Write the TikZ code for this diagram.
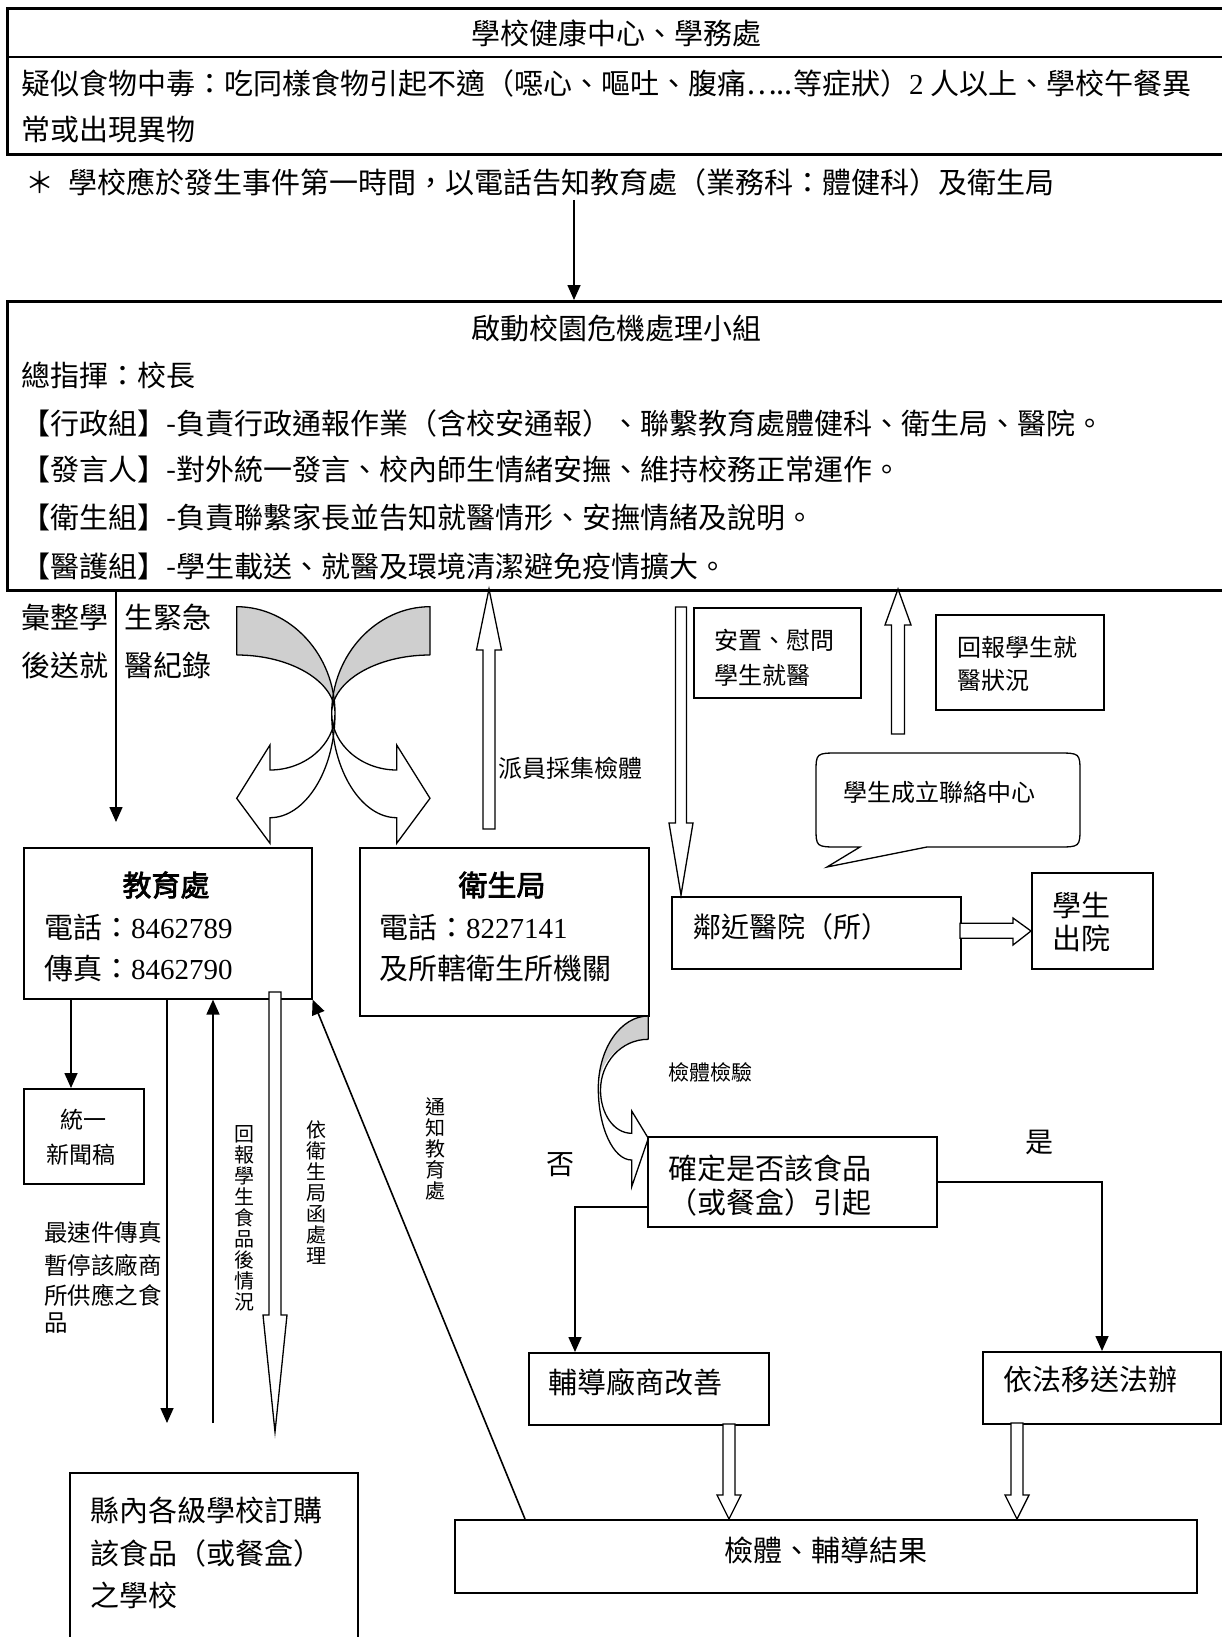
\documentclass[tikz,border=0pt]{standalone}
\usepackage{fontspec}
\setmainfont{Noto Sans CJK TC}
\newfontfamily\lat{Liberation Serif}
\newfontfamily\cjkb{Noto Sans CJK TC}[FakeBold=2.5]
\usetikzlibrary{arrows.meta,calc}
\newcommand\fsz[1]{\fontsize{#1}{#1}\selectfont}
\newcommand\blockarrow[6]{\draw[hollow] (#1-#5,#2) -- (#1+#5,#2) -- (#1+#5,#3) -- (#1+#6,#3) -- (#1,#4) -- (#1-#6,#3) -- (#1-#5,#3) -- cycle;}
\begin{document}
\begin{tikzpicture}[x=1pt,y=-1pt,
  box/.style={draw, line width=1.6pt, inner sep=0pt, anchor=north west},
  bigbox/.style={box, line width=2.6pt},
  t/.style={inner sep=0pt, anchor=west, font=\fsz{29}},
  ts/.style={inner sep=0pt, anchor=west, font=\fsz{24}},
  tc/.style={inner sep=0pt, anchor=center, font=\fsz{29}},
  conn/.style={line width=1.6pt, -{Triangle[length=15pt,width=13pt]}},
  hollow/.style={draw, fill=white, line width=1.3pt, line join=miter},
  crv/.style={line width=1.3pt},
  vt/.style={inner sep=0pt, anchor=north, align=center, font=\fontsize{20}{21}\selectfont},
]
\useasboundingbox (0,0) rectangle (1222,1637);
\fill[white] (0,0) rectangle (1222,1637);
\clip (0,0) rectangle (1222,1637);

% ---------- top box ----------
\node[bigbox, minimum width=1250pt, minimum height=146pt] (school) at (6,7) {};
\draw[line width=2.2pt] ($(school.north west)+(0,50)$) -- ++(1250,0);
\node[tc] (t1) at (616,33) {學校健康中心、學務處};
\node[t] (t2) at (21,83) {疑似食物中毒：吃同樣食物引起不適（噁心、嘔吐、腹痛…..等症狀）{\lat 2} 人以上、學校午餐異};
\node[t] (t3) at (21,130) {常或出現異物};
\node[t] (note) at (25,182) {＊\hspace{14pt}學校應於發生事件第一時間，以電話告知教育處（業務科：體健科）及衛生局};

% ---------- crisis box ----------
\node[bigbox, minimum width=1250pt, minimum height=289pt] (crisis) at (6,300) {};
\coordinate (a0) at (574,200);
\draw[conn] (a0) -- (a0 |- crisis.north);
\node[tc] (c0) at (616,328) {啟動校園危機處理小組};
\node[t] (c1) at (21,375) {總指揮：校長};
\node[t] (c2) at (21,423) {【行政組】-負責行政通報作業（含校安通報）、聯繫教育處體健科、衛生局、醫院。};
\node[t] (c3) at (21,470) {【發言人】-對外統一發言、校內師生情緒安撫、維持校務正常運作。};
\node[t] (c4) at (21,518) {【衛生組】-負責聯繫家長並告知就醫情形、安撫情緒及說明。};
\node[t] (c5) at (21,567) {【醫護組】-學生載送、就醫及環境清潔避免疫情擴大。};

% ---------- left record arrow ----------
\node[t] (r1) at (21,617) {彙整學\hspace{16pt}生緊急};
\node[t] (r2) at (21,665) {後送就\hspace{16pt}醫紀錄};
\coordinate (la) at (116,822);
\draw[conn] (la |- crisis.south) -- (la);

% ---------- crossing curved arrows ----------
\begin{scope}
  \fill[gray!38] (236.7,606.7) .. controls (290,606.7) and (335,654.5) .. (335,713.3) .. controls (335,681.2) and (290.2,655) .. (236.7,655) -- cycle;
  \begin{scope}[shift={(666.7,0)}, xscale=-1]
    \fill[gray!38] (236.7,606.7) .. controls (290,606.7) and (335,654.5) .. (335,713.3) .. controls (335,681.2) and (290.2,655) .. (236.7,655) -- cycle;
  \end{scope}
  \fill[white] (335,713.3) .. controls (335,770.7) and (305,817.7) .. (270,817.7) -- (270,843.3) -- (236.7,798.3) -- (270,745) -- (270,770) .. controls (305.2,770) and (335,744.5) .. (335,713.3) -- cycle;
  \begin{scope}[shift={(666.7,0)}, xscale=-1]
    \fill[white] (335,713.3) .. controls (335,770.7) and (305,817.7) .. (270,817.7) -- (270,843.3) -- (236.7,798.3) -- (270,745) -- (270,770) .. controls (305.2,770) and (335,744.5) .. (335,713.3) -- cycle;
  \end{scope}
  \draw[crv, line join=miter] (236.7,655) -- (236.7,606.7) .. controls (290,606.7) and (335,654.5) .. (335,713.3) .. controls (335,770.7) and (305,817.7) .. (270,817.7) -- (270,843.3) -- (236.7,798.3) -- (270,745) -- (270,770) .. controls (305.2,770) and (335,744.5) .. (335,713.3) .. controls (335,681.2) and (290.2,655) .. (236.7,655);
  \begin{scope}[shift={(666.7,0)}, xscale=-1]
    \draw[crv, line join=miter] (236.7,655) -- (236.7,606.7) .. controls (290,606.7) and (335,654.5) .. (335,713.3) .. controls (335,770.7) and (305,817.7) .. (270,817.7) -- (270,843.3) -- (236.7,798.3) -- (270,745) -- (270,770) .. controls (305.2,770) and (335,744.5) .. (335,713.3) .. controls (335,681.2) and (290.2,655) .. (236.7,655);
  \end{scope}
\end{scope}

% ---------- block arrows near crisis box ----------
\blockarrow{489}{829}{650}{589}{6}{12.5}
\node[ts] (sample) at (498,768) {派員採集檢體};
\blockarrow{681}{607}{823}{895}{5.5}{12}
\blockarrow{898}{734}{625}{589}{6.5}{13}

\node[box, minimum width=167pt, minimum height=90pt] (visit) at (693,607) {};
\node[ts] (visit1) at (714,640) {安置、慰問};
\node[ts] (visit2) at (714,675) {學生就醫};
\node[box, minimum width=168pt, minimum height=95pt] (report) at (935,614) {};
\node[ts] (rep1) at (957,647) {回報學生就};
\node[ts] (rep2) at (957,680) {醫狀況};

% speech bubble
\draw[line width=1.3pt, fill=white] (839,753) -- (1057,753) .. controls (1080,753) .. (1080,773) -- (1080,827) .. controls (1080,847) .. (1057,847) -- (927,847) -- (827,867) -- (860,847) -- (839,847) .. controls (816,847) .. (816,827) -- (816,773) .. controls (816,753) .. (839,753) -- cycle;
\node[inner sep=0pt, font=\fsz{24}] (bub) at (939,792) {學生成立聯絡中心};

% hospital
\node[box, minimum width=289pt, minimum height=72pt] (hosp) at (671,896) {};
\node[inner sep=0pt, anchor=west, font=\fsz{28}] (hosp1) at (693,927) {鄰近醫院（所）};
\node[box, minimum width=121pt, minimum height=96pt] (out) at (1031,872) {};
\node[t] (out1) at (1052,905) {學生};
\node[t] (out2) at (1052,938) {出院};
\draw[hollow] (960,923.3) -- (1013,923.3) -- (1013,918) -- (1031,931) -- (1013,945) -- (1013,938.3) -- (960,938.3) -- cycle;

% ---------- education / health ----------
\node[box, minimum width=288pt, minimum height=151pt] (edu) at (23,847) {};
\node[inner sep=0pt, font=\cjkb\fsz{29}] (edu0) at (166,885) {教育處};
\node[t] (edu1) at (44,927) {電話：{\lat 8462789}};
\node[t] (edu2) at (44,968) {傳真：{\lat 8462790}};
\node[box, minimum width=289pt, minimum height=168pt] (health) at (359,847) {};
\node[inner sep=0pt, font=\cjkb\fsz{29}] (hea0) at (502,885) {衛生局};
\node[t] (hea1) at (379,927) {電話：{\lat 8227141}};
\node[t] (hea2) at (379,968) {及所轄衛生所機關};

% press release
\node[box, minimum width=120pt, minimum height=95pt] (press) at (23,1088) {};
\node[inner sep=0pt, font=\fsz{23}] (pr1) at (83,1120) {統一};
\node[inner sep=0pt, font=\fsz{23}] (pr2) at (81,1155) {新聞稿};
\draw[conn] ($(edu.south west)+(48,0)$) -- ($(press.north west)+(48,0)$);

% lines below education
\node[inner sep=0pt, anchor=west, font=\fsz{23.5}] (fx1) at (44,1233) {最速件傳真};
\node[inner sep=0pt, anchor=west, font=\fsz{23.5}] (fx2) at (44,1265) {暫停該廠商};
\node[inner sep=0pt, anchor=west, font=\fsz{23.5}] (fx3) at (44,1295) {所供應之食};
\node[inner sep=0pt, anchor=west, font=\fsz{23.5}] (fx4) at (44,1323) {品};
\coordinate (d1) at (167,1423);
\draw[conn] (d1 |- edu.south) -- (d1);
\coordinate (u1) at (213,1423);
\draw[conn] (u1) -- (u1 |- edu.south);
\blockarrow{275}{992}{1315}{1432}{6}{12}
\node[vt] (v1) at (244,1125) {回\\報\\學\\生\\食\\品\\後\\情\\況};
\node[vt] (v2) at (316,1121) {依\\衛\\生\\局\\函\\處\\理};
\node[vt] (v3) at (435,1098) {通\\知\\教\\育\\處};

% ---------- check curved arrow ----------
\fill[gray!38] (648.3,1016) .. controls (620.8,1016) and (598.3,1048.5) .. (598.3,1088.3) .. controls (598.3,1061.3) and (620.8,1039.3) .. (648.3,1039.3) -- cycle;
\fill[white] (598.3,1088.3) .. controls (598.3,1127.7) and (613.3,1160) .. (631.7,1160) -- (631.7,1186.7) -- (648.3,1138.3) -- (631.7,1111) -- (631.7,1133.3) .. controls (613.3,1133.3) and (600.5,1113) .. (600.5,1090) -- cycle;
\draw[crv, line join=miter] (648.3,1039.3) -- (648.3,1016) .. controls (620.8,1016) and (598.3,1048.5) .. (598.3,1088.3) .. controls (598.3,1127.7) and (613.3,1160) .. (631.7,1160) -- (631.7,1186.7) -- (648.3,1138.3) -- (631.7,1111) -- (631.7,1133.3) .. controls (613.3,1133.3) and (600.5,1113) .. (600.5,1090) .. controls (600.5,1063) and (620.8,1039.3) .. (648.3,1039.3);
\node[inner sep=0pt, anchor=west, font=\fsz{21}] (chk) at (668,1072) {檢體檢驗};

% ---------- decision ----------
\node[box, minimum width=289pt, minimum height=90pt] (check) at (647,1136) {};
\node[t] (ck1) at (668,1168) {確定是否該食品};
\node[t] (ck2) at (668,1202) {（或餐盒）引起};
\node[inner sep=0pt, font=\fsz{28}] (no) at (560,1165) {否};
\node[inner sep=0pt, font=\fsz{28}] (yes) at (1039,1142) {是};

\node[box, minimum width=240pt, minimum height=72pt] (guide) at (528,1352) {};
\node[t] (gd) at (548,1382) {輔導廠商改善};
\node[box, minimum width=238pt, minimum height=72pt] (law) at (982,1351) {};
\node[t] (lw) at (1003,1380) {依法移送法辦};

\coordinate (bl) at (575,1207);
\draw[conn] (bl -| check.west) -- (bl) -- (bl |- guide.north);
\coordinate (br) at (1102,1182);
\draw[conn] (br -| check.east) -- (br) -- (br |- law.north);

\blockarrow{729}{1424}{1495}{1519}{6}{12}
\blockarrow{1017}{1423}{1495}{1519}{6}{12}

\node[box, minimum width=742pt, minimum height=73pt] (result) at (454,1519) {};
\node[tc] (res) at (826,1550) {檢體、輔導結果};
\draw[conn] ($(result.north west)+(71,0)$) -- (edu.south east);

% ---------- schools ----------
\node[box, minimum width=288pt, minimum height=200pt] (schools) at (69,1472) {};
\node[t] (sc1) at (90,1510) {縣內各級學校訂購};
\node[t] (sc2) at (90,1553) {該食品（或餐盒）};
\node[t] (sc3) at (90,1595) {之學校};
\end{tikzpicture}
\end{document}
